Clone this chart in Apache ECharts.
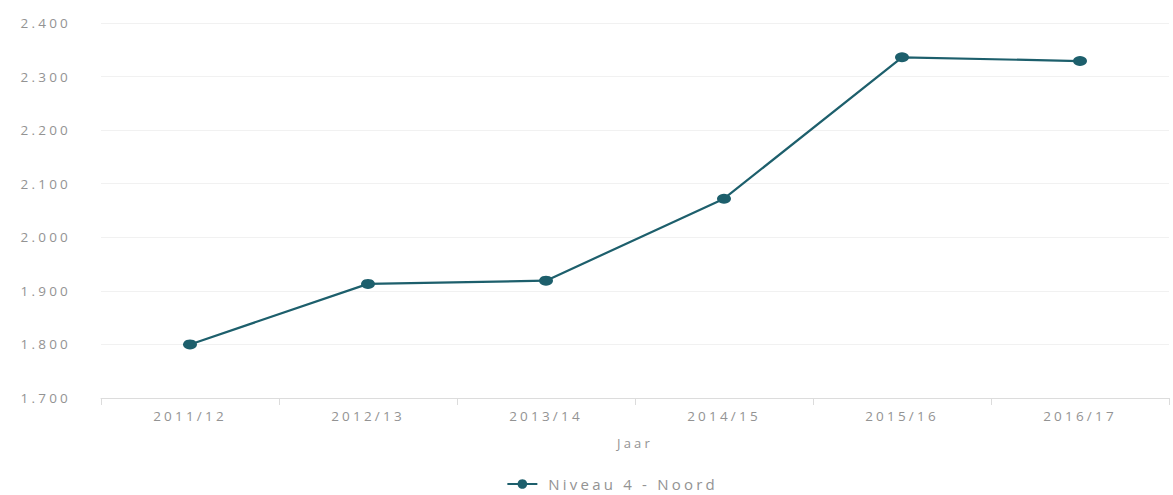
<!DOCTYPE html>
<html>
<head>
<meta charset="utf-8">
<script src="https://cdn.jsdelivr.net/npm/echarts@6/dist/echarts.min.js"></script>
<style>
  html, body { margin: 0; padding: 0; background: #fff; }
  #chart { width: 1173px; height: 495px; }
  /* widely tracked labels */
  #chart svg text { letter-spacing: 3.2px; }
</style>
</head>
<body>
<div id="chart"></div>
<script>
// School years on the category axis
const years = ['2011/12', '2012/13', '2013/14', '2014/15', '2015/16', '2016/17'];
// Values for the single series
const seriesName = 'Niveau 4 - Noord';
const values = [1800, 1913, 1919, 2072, 2336, 2329];
// Value axis range
const yMin = 1700;
const yMax = 2400;
const yStep = 100;

const textColor = '#939393';
const fontFamily = '"Open Sans", Lato, sans-serif';
const lineColor = '#1d5f6c';

// Dutch thousands separator: 2400 -> 2.400
function nl(v) {
  return String(v).replace(/\B(?=(\d{3})+(?!\d))/g, '.');
}

const chart = echarts.init(document.getElementById('chart'), null, { renderer: 'svg' });
chart.setOption({
  animation: false,
  grid: { left: 101, right: 4, top: 23, bottom: 97, containLabel: false },
  xAxis: {
    type: 'category',
    data: years,
    boundaryGap: true,
    name: 'Jaar',
    nameLocation: 'middle',
    nameGap: 38,
    nameTextStyle: { color: textColor, fontFamily: fontFamily, fontSize: 13 },
    axisLine: { lineStyle: { color: '#dcdcdc', width: 1 } },
    axisTick: { show: true, length: 7, lineStyle: { color: '#dcdcdc' } },
    axisLabel: { color: textColor, fontFamily: fontFamily, fontSize: 13.5, margin: 11 },
    splitLine: { show: false }
  },
  yAxis: {
    type: 'value',
    min: yMin,
    max: yMax,
    interval: yStep,
    axisLine: { show: false },
    axisTick: { show: false },
    axisLabel: {
      color: textColor, fontFamily: fontFamily, fontSize: 13.5, margin: 30,
      align: 'right',
      formatter: v => nl(v)
    },
    splitLine: { lineStyle: { color: '#f1f1f1', width: 1 } }
  },
  legend: {
    top: 474,
    left: 'center',
    padding: 2,
    itemWidth: 30,
    itemHeight: 12,
    textStyle: { color: textColor, fontFamily: fontFamily, fontSize: 15, lineHeight: 16, padding: [0, 0, 0, 6] },
    data: [seriesName]
  },
  series: [{
    name: seriesName,
    type: 'line',
    data: values,
    symbol: 'circle',
    symbolSize: [14, 10],
    lineStyle: { color: lineColor, width: 2.2 },
    itemStyle: { color: lineColor }
  }]
});
</script>
</body>
</html>
